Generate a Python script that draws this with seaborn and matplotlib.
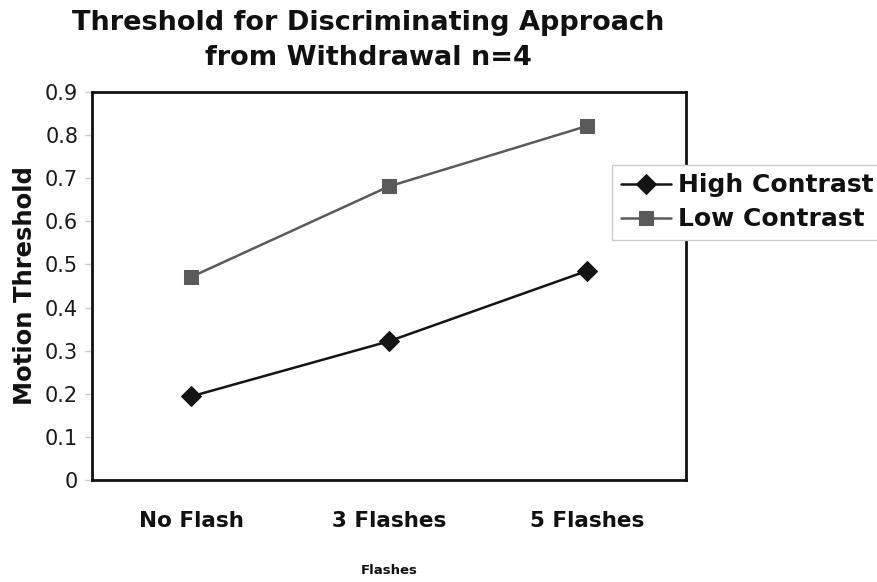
import pandas as pd
import matplotlib
matplotlib.use("Agg")
import matplotlib.pyplot as plt
import seaborn as sns

# === DATA ===
conditions = ["No Flash", "3 Flashes", "5 Flashes"]
high_contrast = [0.194, 0.322, 0.485]
low_contrast = [0.471, 0.681, 0.821]
y_ticks = [0, 0.1, 0.2, 0.3, 0.4, 0.5, 0.6, 0.7, 0.8, 0.9]
y_tick_labels = ["0", "0.1", "0.2", "0.3", "0.4", "0.5", "0.6", "0.7", "0.8", "0.9"]

df = pd.DataFrame({
    "Flashes": conditions * 2,
    "Threshold": high_contrast + low_contrast,
    "Series": ["High Contrast"] * 3 + ["Low Contrast"] * 3,
})

sns.set_style("white")
plt.rcParams["font.family"] = ["DejaVu Sans"]
plt.rcParams["text.color"] = "#111111"

fig = plt.figure(figsize=(8.77, 5.82), dpi=100)
ax = fig.add_axes([0.105, 0.175, 0.677, 0.667])

sns.lineplot(data=df, x="Flashes", y="Threshold", hue="Series", style="Series",
             palette={"High Contrast": "#141414", "Low Contrast": "#5a5a5a"},
             markers={"High Contrast": "D", "Low Contrast": "s"},
             dashes=False, markersize=10.5, linewidth=1.8,
             markeredgecolor=None, ax=ax)

ax.set_xlim(-0.5, 2.5)
ax.set_ylim(0, 0.9)
ax.set_yticks(y_ticks)
ax.set_yticklabels(y_tick_labels, fontsize=15, color="#1a1a1a")
ax.set_xticks(range(len(conditions)))
ax.set_xticklabels(conditions, fontsize=15.5, fontweight="bold", color="#111111")
ax.set_xticks([-0.5, 0.5, 1.5, 2.5], minor=True)
ax.tick_params(axis="x", which="major", length=0, pad=22)
ax.tick_params(axis="x", which="minor", length=8, color="#cccccc", width=1, direction="out")
ax.tick_params(axis="y", length=5, color="#cccccc", width=1, direction="out", left=True, pad=5)

for side in ["left", "right", "top", "bottom"]:
    ax.spines[side].set_color("#111111")
    ax.spines[side].set_linewidth(2)

ax.set_xlabel("Flashes", fontsize=9.5, fontweight="bold", labelpad=24, color="#111111")
ax.set_ylabel("Motion Threshold", fontsize=17.5, fontweight="bold", labelpad=6, color="#111111")

# title is centred a little left of the plot area in the original
fig.text(0.42, 0.982, "Threshold for Discriminating Approach\nfrom Withdrawal n=4",
         ha="center", va="top", fontsize=19.5, fontweight="bold",
         linespacing=1.45, color="#111111")

handles, labels = ax.get_legend_handles_labels()
ax.legend(handles, labels, loc="upper left", bbox_to_anchor=(0.698, 0.717),
          bbox_transform=fig.transFigure, frameon=True, fancybox=False,
          edgecolor="#cccccc", framealpha=1, borderpad=0.35, handlelength=2.0,
          handletextpad=0.3, labelspacing=0.4, borderaxespad=0,
          prop={"size": 18, "weight": "bold"})

fig.savefig("out.png", dpi=100)
